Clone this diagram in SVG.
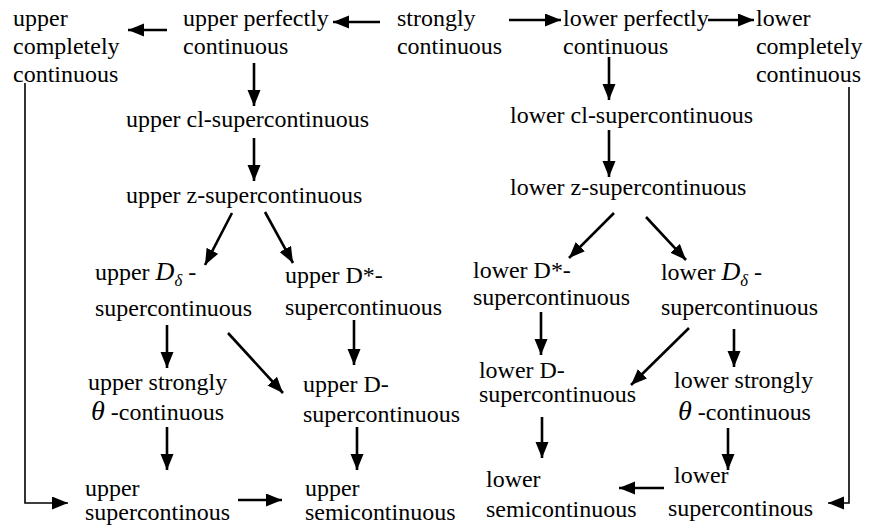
<svg xmlns="http://www.w3.org/2000/svg" width="872" height="526" viewBox="0 0 872 526">
<style>
text{font-family:'Liberation Serif',serif;font-size:23px;fill:#000}
.i{font-style:italic}
.c{fill:none;stroke:#000;stroke-width:2.6}
.c2{fill:none;stroke:#000;stroke-width:1.6}
</style>
<defs>
<marker id="ah" markerUnits="userSpaceOnUse" markerWidth="17" markerHeight="14" refX="16" refY="6.5" orient="auto">
<path d="M0,0 L16,6.5 L0,13 z" fill="#000"/>
</marker>
</defs>
<rect width="872" height="526" fill="#fff"/>
<g id="connectors">
<line class="c" x1="380" y1="22" x2="333" y2="22" marker-end="url(#ah)"/>
<line class="c" x1="167" y1="30" x2="128" y2="30" marker-end="url(#ah)"/>
<line class="c" x1="509" y1="20" x2="561" y2="20" marker-end="url(#ah)"/>
<line class="c" x1="708" y1="20" x2="754" y2="20" marker-end="url(#ah)"/>
<line class="c" x1="254" y1="63" x2="254" y2="106" marker-end="url(#ah)"/>
<line class="c" x1="254" y1="138" x2="254" y2="181" marker-end="url(#ah)"/>
<line class="c" x1="609" y1="57" x2="609" y2="100" marker-end="url(#ah)"/>
<line class="c" x1="609" y1="130" x2="609" y2="177" marker-end="url(#ah)"/>
<line class="c" x1="232" y1="213" x2="205" y2="265" marker-end="url(#ah)"/>
<line class="c" x1="265" y1="212" x2="293" y2="263" marker-end="url(#ah)"/>
<line class="c" x1="614" y1="213" x2="569" y2="258" marker-end="url(#ah)"/>
<line class="c" x1="646" y1="217" x2="686" y2="260" marker-end="url(#ah)"/>
<line class="c" x1="167" y1="325" x2="167" y2="368" marker-end="url(#ah)"/>
<line class="c" x1="228" y1="333" x2="283" y2="393" marker-end="url(#ah)"/>
<line class="c" x1="354" y1="320" x2="354" y2="365" marker-end="url(#ah)"/>
<line class="c" x1="541" y1="312" x2="541" y2="355" marker-end="url(#ah)"/>
<line class="c" x1="689" y1="328" x2="631" y2="385" marker-end="url(#ah)"/>
<line class="c" x1="734" y1="329" x2="734" y2="367" marker-end="url(#ah)"/>
<line class="c" x1="167" y1="427" x2="167" y2="470" marker-end="url(#ah)"/>
<line class="c" x1="357" y1="427" x2="357" y2="470" marker-end="url(#ah)"/>
<line class="c" x1="542" y1="417" x2="542" y2="458" marker-end="url(#ah)"/>
<line class="c" x1="728" y1="428" x2="728" y2="470" marker-end="url(#ah)"/>
<line class="c" x1="238" y1="500" x2="282" y2="500" marker-end="url(#ah)"/>
<line class="c" x1="664" y1="488" x2="619" y2="488" marker-end="url(#ah)"/>
<polyline class="c2" points="25,83 25,503 68,503" marker-end="url(#ah)"/>
<polyline class="c2" points="849,87 849,503 828,503" marker-end="url(#ah)"/>
</g>
<g id="nodes" transform="scale(1.043 1)">
<g id="upper-completely"><text x="12.5" y="26">upper</text><text x="12.5" y="54">completely</text><text x="12.5" y="82">continuous</text></g>
<g id="upper-perfectly"><text x="175.5" y="26">upper perfectly</text><text x="175.5" y="54">continuous</text></g>
<g id="strongly"><text x="380.6" y="26">strongly</text><text x="380.6" y="54">continuous</text></g>
<g id="lower-perfectly"><text x="539.8" y="26">lower perfectly</text><text x="539.8" y="54">continuous</text></g>
<g id="lower-completely"><text x="724.8" y="26">lower</text><text x="724.8" y="54">completely</text><text x="724.8" y="82">continuous</text></g>
<g id="upper-cl"><text x="120.8" y="127">upper cl-supercontinuous</text></g>
<g id="lower-cl"><text x="489" y="123">lower cl-supercontinuous</text></g>
<g id="upper-z"><text x="120.8" y="203">upper z-supercontinuous</text></g>
<g id="lower-z"><text x="489" y="195">lower z-supercontinuous</text></g>
<g id="upper-Ddelta"><text x="91.1" y="280">upper <tspan class="i" font-size="25">D</tspan><tspan class="i" font-size="16" dy="6">δ</tspan><tspan dy="-6"> -</tspan></text><text x="91.1" y="316">supercontinuous</text></g>
<g id="upper-Dstar"><text x="273.2" y="283">upper D*-</text><text x="273.2" y="315">supercontinuous</text></g>
<g id="lower-Dstar"><text x="453.5" y="278">lower D*-</text><text x="453.5" y="305">supercontinuous</text></g>
<g id="lower-Ddelta"><text x="633.7" y="280">lower <tspan class="i" font-size="25">D</tspan><tspan class="i" font-size="16" dy="6">δ</tspan><tspan dy="-6"> -</tspan></text><text x="633.7" y="315">supercontinuous</text></g>
<g id="upper-strongly-theta"><text x="84.4" y="390">upper strongly</text><text x="87.2" y="420"><tspan class="i" font-size="27">θ</tspan> -continuous</text></g>
<g id="upper-D"><text x="290.5" y="392">upper D-</text><text x="290.5" y="422">supercontinuous</text></g>
<g id="lower-D"><text x="459.2" y="378">lower D-</text><text x="459.2" y="402">supercontinuous</text></g>
<g id="lower-strongly-theta"><text x="646.2" y="388">lower strongly</text><text x="650" y="420"><tspan class="i" font-size="27">θ</tspan> -continuous</text></g>
<g id="upper-supercontinous"><text x="81.5" y="496">upper</text><text x="81.5" y="520">supercontinous</text></g>
<g id="upper-semicontinuous"><text x="292.4" y="496">upper</text><text x="292.4" y="520">semicontinuous</text></g>
<g id="lower-semicontinuous"><text x="466" y="487">lower</text><text x="466" y="517">semicontinuous</text></g>
<g id="lower-supercontinous"><text x="646.2" y="483">lower</text><text x="640.5" y="516">supercontinous</text></g>
</g>
</svg>
